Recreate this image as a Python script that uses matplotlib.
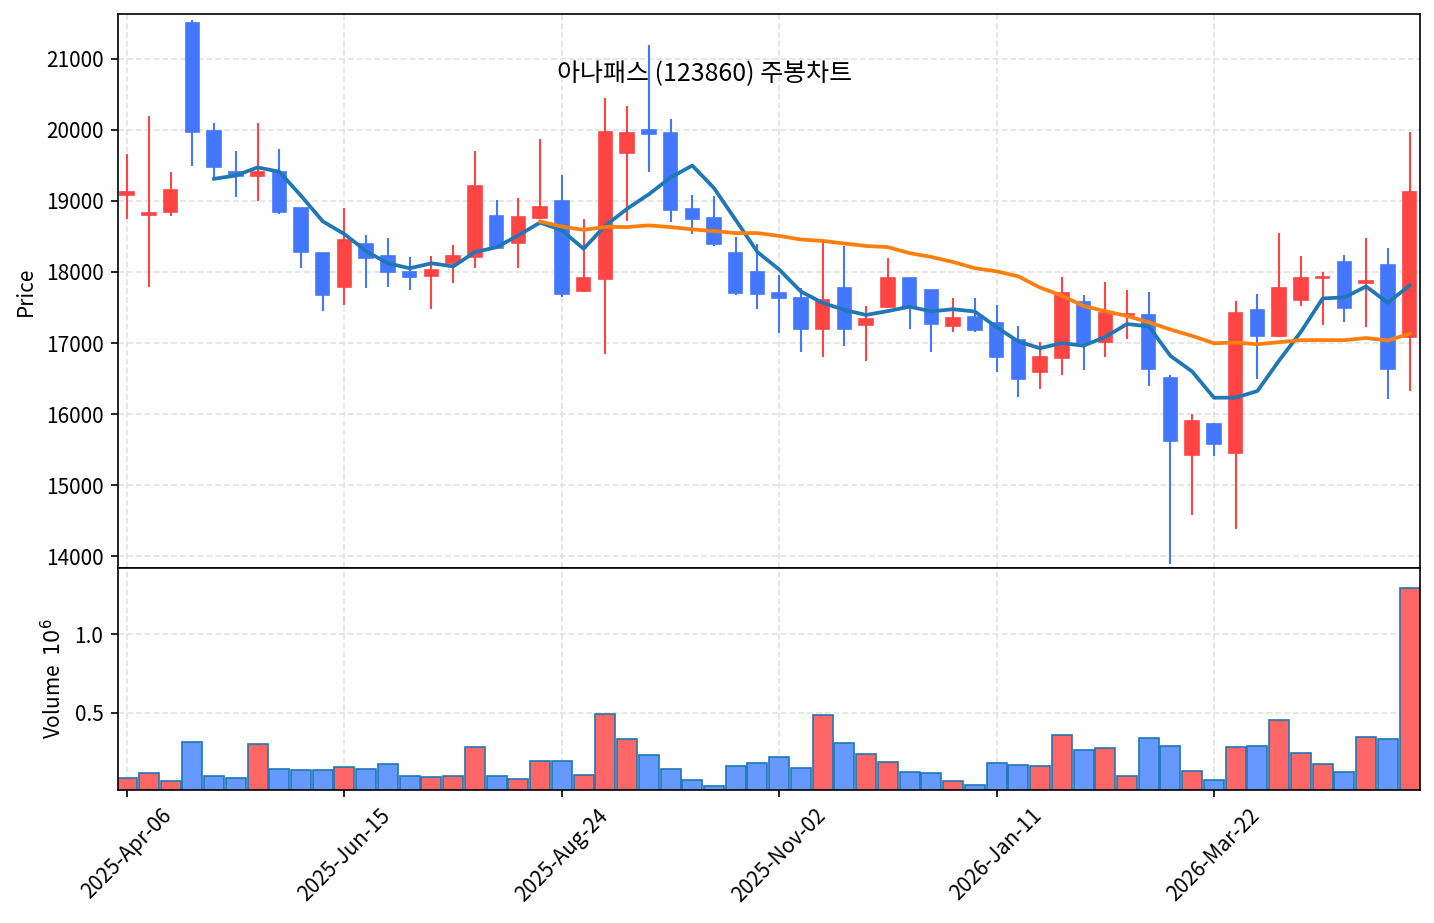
import numpy as np
import pandas as pd
import matplotlib
matplotlib.use('Agg')
import matplotlib.pyplot as plt
from matplotlib.ticker import FixedLocator, FuncFormatter

plt.rcParams['font.family'] = ['Noto Sans CJK KR', 'DejaVu Sans']

# weekly candles, 60 weeks starting 2025-04-06
dates = pd.date_range('2025-04-06', periods=60, freq='7D')

opens = [19080, 18800, 18850, 21500, 19980, 19400, 19350, 19400, 18900, 18270,
         17790, 18400, 18220, 18000, 17940, 18120, 18210, 18780, 18410, 18760,
         19000, 17730, 17900, 19670, 20000, 19950, 18880, 18760, 18260, 18000,
         17700, 17640, 17200, 17770, 17250, 17510, 17910, 17750, 17240, 17360,
         17280, 17050, 16590, 16790, 17580, 17020, 17390, 17400, 16510, 15430,
         15860, 15450, 17470, 17100, 17600, 17910, 18140, 17850, 18100, 17090]
highs = [19660, 20190, 19400, 21540, 20100, 19700, 20100, 19730, 18900, 18270,
         18900, 18520, 18480, 18210, 18230, 18380, 19700, 19010, 19040, 19870,
         19370, 18740, 20440, 20340, 21190, 20150, 19080, 19070, 18490, 18390,
         17960, 17780, 18420, 18370, 17520, 18200, 17910, 17750, 17630, 17630,
         17540, 17240, 17020, 17930, 17680, 17860, 17750, 17720, 16550, 16000,
         15880, 17590, 17690, 18550, 18220, 18000, 18240, 18480, 18340, 19970]
lows = [18740, 17790, 18790, 19490, 19310, 19050, 19000, 18820, 18050, 17450,
        17530, 17780, 17790, 17750, 17480, 17850, 18050, 18330, 18050, 18750,
        17650, 17720, 16840, 18710, 19400, 18700, 18530, 18360, 17670, 17480,
        17140, 16870, 16810, 16960, 16750, 17500, 17200, 16870, 17150, 17150,
        16600, 16240, 16360, 16550, 16620, 16800, 17060, 16400, 13900, 14590,
        15410, 14380, 16500, 17090, 17520, 17260, 17300, 17230, 16220, 16320]
closes = [19120, 18830, 19150, 19970, 19480, 19350, 19400, 18850, 18280, 17680,
          18450, 18200, 18000, 17930, 18030, 18230, 19210, 18340, 18770, 18920,
          17690, 17910, 19970, 19950, 19940, 18870, 18750, 18390, 17700, 17690,
          17640, 17200, 17600, 17200, 17340, 17910, 17510, 17270, 17350, 17180,
          16810, 16500, 16800, 17710, 17000, 17420, 17410, 16640, 15630, 15900,
          15580, 17420, 17100, 17780, 17910, 17930, 17490, 17870, 16640, 19120]
volumes = [87000, 118000, 68000, 314000, 99000, 87000, 302000, 146000, 139000, 139000,
           156000, 146000, 175000, 99000, 93000, 99000, 283000, 99000, 80000, 192000,
           192000, 105000, 492000, 333000, 232000, 146000, 76000, 36000, 162000, 181000,
           219000, 150000, 485000, 310000, 238000, 188000, 124000, 118000, 68000, 40000,
           181000, 169000, 162000, 359000, 264000, 276000, 99000, 340000, 289000, 131000,
           74000, 283000, 289000, 454000, 245000, 175000, 124000, 346000, 333000, 1290000]

title = '아나패스 (123860) 주봉차트'

o = np.array(opens)
h = np.array(highs)
l = np.array(lows)
c = np.array(closes)
v = np.array(volumes)
x = np.arange(len(o))
up = c >= o

ma5 = pd.Series(c).rolling(5).mean()
ma20 = pd.Series(c).rolling(20).mean()

fig = plt.figure(figsize=(9.56, 923 / 150), dpi=150)
ax = fig.add_axes([118 / 1434, 1 - 568 / 923, 1302 / 1434, 554 / 923])
axv = fig.add_axes([118 / 1434, 1 - 790 / 923, 1302 / 1434, 222 / 923], sharex=ax)

up_col, dn_col = '#ff4444', '#4477ff'
cols = np.where(up, up_col, dn_col)

ax.vlines(x, l, h, colors=cols, linewidth=1.0, zorder=2)
body = np.abs(c - o)
body = np.where(body < 15, 15, body)
ax.bar(x, body, bottom=np.minimum(o, c), width=0.62, color=cols,
       edgecolor=cols, linewidth=0.8, zorder=3)
ax.plot(x, ma5, color='#1f77b4', linewidth=1.8, zorder=4)
ax.plot(x, ma20, color='#ff7f0e', linewidth=1.8, zorder=4)

vcols = np.where(up, '#ff6666', '#6699ff')
axv.bar(x, v, width=0.92, color=vcols, edgecolor='#1f77b4', linewidth=0.8)

ax.set_xlim(-0.42, 59.48)
ax.set_ylim(13838, 21627)
ax.set_yticks(np.arange(14000, 21001, 1000))
ax.set_ylabel('Price')
ax.grid(True, linestyle='--', color='#e3e3e3', linewidth=0.8)
ax.set_axisbelow(True)
ax.tick_params(axis='x', bottom=False, labelbottom=False)

axv.set_ylim(0.3 * v.min(), 1.1 * v.max())
axv.set_yticks([500000, 1000000])
axv.yaxis.set_major_formatter(FuncFormatter(lambda val, pos: '%.1f' % (val / 1e6)))
axv.set_ylabel('Volume  $10^{6}$')
axv.grid(True, linestyle='--', color='#e3e3e3', linewidth=0.8)
axv.set_axisbelow(True)

tick_idx = [0, 10, 20, 30, 40, 50]
axv.xaxis.set_major_locator(FixedLocator(tick_idx))
axv.xaxis.set_major_formatter(FuncFormatter(
    lambda val, pos: dates[int(round(val))].strftime('%Y-%b-%d') if 0 <= round(val) < len(dates) else ''))
plt.setp(axv.get_xticklabels(), rotation=45, ha='center')

fig.text(705 / 1434, 1 - 74 / 923, title, ha='center', va='center', fontsize=12)

fig.savefig('out.png', dpi=150)
